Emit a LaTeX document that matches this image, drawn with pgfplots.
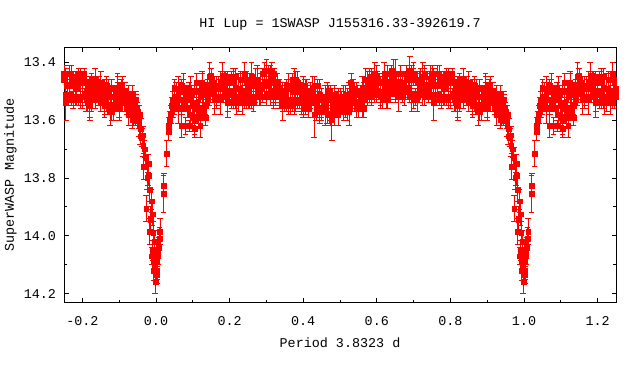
\documentclass[border=0pt]{standalone}
\usepackage{fontspec}
\setmainfont{Liberation Mono}
\usepackage{pgfplots}
\pgfplotsset{compat=1.18}
\usepackage{pgfplotstable}
\newcommand\gfont{\fontsize{13.4bp}{16bp}\selectfont}

% phase-folded light curve, out of eclipse: phase, three magnitudes with errors
\pgfplotstableread{
p a ea b eb c ec
0.050 13.49 0.03 13.55 0.03 13.52 0.04
0.055 13.52 0.02 13.49 0.02 13.49 0.02
0.060 13.49 0.04 13.56 0.05 13.52 0.03
0.065 13.53 0.03 13.50 0.03 13.50 0.03
0.070 13.56 0.02 13.62 0.04 13.48 0.02
0.075 13.49 0.05 13.55 0.02 13.50 0.04
0.080 13.53 0.03 13.62 0.03 13.52 0.03
0.085 13.52 0.04 13.56 0.03 13.53 0.03
0.090 13.50 0.02 13.62 0.02 13.49 0.02
0.095 13.52 0.03 13.58 0.04 13.50 0.05
0.100 13.55 0.03 13.59 0.03 13.54 0.04
0.105 13.56 0.02 13.63 0.02 13.50 0.02
0.110 13.54 0.04 13.54 0.05 13.47 0.03
0.115 13.56 0.03 13.58 0.03 13.56 0.03
0.120 13.50 0.02 13.59 0.04 13.52 0.02
0.125 13.49 0.05 13.56 0.02 13.47 0.04
0.130 13.50 0.03 13.57 0.03 13.51 0.03
0.135 13.55 0.04 13.59 0.03 13.55 0.03
0.140 13.49 0.02 13.48 0.02 13.53 0.02
0.145 13.51 0.03 13.51 0.04 13.45 0.05
0.150 13.47 0.03 13.45 0.03 13.46 0.04
0.155 13.51 0.02 13.47 0.02 13.51 0.02
0.160 13.49 0.04 13.53 0.05 13.53 0.03
0.165 13.48 0.03 13.52 0.03 13.53 0.03
0.170 13.48 0.02 13.49 0.04 13.52 0.02
0.175 13.53 0.05 13.52 0.02 13.47 0.04
0.180 13.48 0.03 13.46 0.03 13.49 0.03
0.185 13.47 0.04 13.48 0.03 13.47 0.03
0.190 13.52 0.02 13.50 0.02 13.45 0.02
0.195 13.54 0.03 13.47 0.04 13.54 0.05
0.200 13.50 0.03 13.51 0.03 13.51 0.04
0.205 13.45 0.02 13.51 0.02 13.54 0.02
0.210 13.47 0.04 13.47 0.05 13.53 0.03
0.215 13.53 0.03 13.49 0.03 13.45 0.03
0.220 13.53 0.02 13.54 0.04 13.52 0.02
0.225 13.49 0.05 13.52 0.02 13.53 0.04
0.230 13.46 0.03 13.52 0.03 13.50 0.03
0.235 13.54 0.04 13.50 0.03 13.51 0.03
0.240 13.52 0.02 13.52 0.02 13.54 0.02
0.245 13.46 0.03 13.47 0.04 13.51 0.05
0.250 13.51 0.03 13.49 0.03 13.52 0.04
0.255 13.54 0.02 13.52 0.02 13.46 0.02
0.260 13.48 0.04 13.45 0.05 13.53 0.03
0.265 13.54 0.03 13.54 0.03 13.52 0.03
0.270 13.52 0.02 13.46 0.04 13.48 0.02
0.275 13.46 0.05 13.49 0.02 13.46 0.04
0.280 13.50 0.03 13.52 0.03 13.50 0.03
0.285 13.48 0.04 13.52 0.03 13.49 0.03
0.290 13.44 0.02 13.52 0.02 13.52 0.02
0.295 13.43 0.03 13.48 0.04 13.47 0.05
0.300 13.48 0.03 13.52 0.03 13.51 0.04
0.305 13.51 0.02 13.48 0.02 13.43 0.02
0.310 13.45 0.04 13.50 0.05 13.50 0.03
0.315 13.43 0.03 13.47 0.03 13.46 0.03
0.320 13.52 0.02 13.52 0.04 13.44 0.02
0.325 13.50 0.05 13.49 0.02 13.50 0.04
0.330 13.47 0.03 13.49 0.03 13.49 0.03
0.335 13.52 0.04 13.52 0.03 13.49 0.03
0.340 13.50 0.02 13.52 0.02 13.53 0.02
0.345 13.50 0.03 13.53 0.04 13.55 0.05
0.350 13.51 0.03 13.52 0.03 13.53 0.04
0.355 13.55 0.02 13.48 0.02 13.49 0.02
0.360 13.48 0.04 13.53 0.05 13.53 0.03
0.365 13.49 0.03 13.53 0.03 13.55 0.03
0.370 13.46 0.02 13.48 0.04 13.55 0.02
0.375 13.53 0.05 13.50 0.02 13.46 0.04
0.380 13.54 0.03 13.46 0.03 13.53 0.03
0.385 13.47 0.04 13.53 0.03 13.49 0.03
0.390 13.54 0.02 13.54 0.02 13.50 0.02
0.395 13.52 0.03 13.54 0.04 13.52 0.05
0.400 13.48 0.03 13.51 0.03 13.55 0.04
0.405 13.54 0.02 13.48 0.02 13.56 0.02
0.410 13.50 0.04 13.51 0.05 13.52 0.03
0.415 13.56 0.03 13.53 0.03 13.54 0.03
0.420 13.54 0.02 13.51 0.04 13.50 0.02
0.425 13.50 0.05 13.53 0.02 13.49 0.04
0.430 13.48 0.03 13.52 0.03 13.48 0.03
0.435 13.56 0.04 13.55 0.03 13.55 0.03
0.440 13.57 0.02 13.53 0.02 13.48 0.02
0.445 13.57 0.03 13.57 0.04 13.51 0.05
0.450 13.56 0.03 13.52 0.03 13.56 0.04
0.455 13.54 0.02 13.53 0.02 13.56 0.02
0.460 13.52 0.04 13.57 0.05 13.55 0.03
0.465 13.58 0.03 13.51 0.03 13.50 0.03
0.470 13.50 0.02 13.53 0.04 13.53 0.02
0.475 13.53 0.05 13.58 0.02 13.58 0.04
0.480 13.54 0.03 13.52 0.03 13.57 0.03
0.485 13.58 0.04 13.51 0.03 13.55 0.03
0.490 13.52 0.02 13.57 0.02 13.53 0.02
0.495 13.55 0.03 13.58 0.04 13.54 0.05
0.500 13.53 0.03 13.55 0.03 13.53 0.04
0.505 13.54 0.02 13.52 0.02 13.52 0.02
0.510 13.52 0.04 13.55 0.05 13.57 0.03
0.515 13.51 0.03 13.51 0.03 13.56 0.03
0.520 13.51 0.02 13.56 0.04 13.54 0.02
0.525 13.57 0.05 13.56 0.02 13.51 0.04
0.530 13.47 0.03 13.51 0.03 13.52 0.03
0.535 13.53 0.04 13.49 0.03 13.54 0.03
0.540 13.54 0.02 13.54 0.02 13.49 0.02
0.545 13.56 0.03 13.51 0.04 13.54 0.05
0.550 13.56 0.03 13.56 0.03 13.55 0.04
0.555 13.50 0.02 13.53 0.02 13.52 0.02
0.560 13.49 0.04 13.54 0.05 13.53 0.03
0.565 13.50 0.03 13.53 0.03 13.56 0.03
0.570 13.52 0.02 13.46 0.04 13.50 0.02
0.575 13.48 0.05 13.51 0.02 13.51 0.04
0.580 13.50 0.03 13.51 0.03 13.45 0.03
0.585 13.46 0.04 13.46 0.03 13.52 0.03
0.590 13.50 0.02 13.48 0.02 13.51 0.02
0.595 13.48 0.03 13.44 0.04 13.49 0.05
0.600 13.47 0.03 13.51 0.03 13.47 0.04
0.605 13.47 0.02 13.50 0.02 13.51 0.02
0.610 13.52 0.04 13.50 0.05 13.50 0.03
0.615 13.47 0.03 13.47 0.03 13.53 0.03
0.620 13.46 0.02 13.44 0.04 13.48 0.02
0.625 13.51 0.05 13.47 0.02 13.52 0.04
0.630 13.53 0.03 13.49 0.03 13.44 0.03
0.635 13.49 0.04 13.47 0.03 13.51 0.03
0.640 13.43 0.02 13.48 0.02 13.46 0.02
0.645 13.45 0.03 13.47 0.04 13.44 0.05
0.650 13.51 0.03 13.50 0.03 13.50 0.04
0.655 13.51 0.02 13.48 0.02 13.49 0.02
0.660 13.47 0.04 13.52 0.05 13.49 0.03
0.665 13.44 0.03 13.47 0.03 13.50 0.03
0.670 13.52 0.02 13.48 0.04 13.52 0.02
0.675 13.50 0.05 13.50 0.02 13.49 0.04
0.680 13.44 0.03 13.44 0.03 13.46 0.03
0.685 13.49 0.04 13.46 0.03 13.50 0.03
0.690 13.52 0.02 13.51 0.02 13.52 0.02
0.695 13.46 0.03 13.45 0.04 13.52 0.05
0.700 13.53 0.03 13.45 0.03 13.44 0.04
0.705 13.53 0.02 13.51 0.02 13.51 0.02
0.710 13.47 0.04 13.52 0.05 13.47 0.03
0.715 13.51 0.03 13.49 0.03 13.46 0.03
0.720 13.49 0.02 13.46 0.04 13.48 0.02
0.725 13.45 0.05 13.49 0.02 13.51 0.04
0.730 13.44 0.03 13.45 0.03 13.52 0.03
0.735 13.49 0.04 13.50 0.03 13.48 0.03
0.740 13.52 0.02 13.50 0.02 13.50 0.02
0.745 13.46 0.03 13.48 0.04 13.46 0.05
0.750 13.44 0.03 13.46 0.03 13.45 0.04
0.755 13.53 0.02 13.51 0.02 13.44 0.02
0.760 13.51 0.04 13.48 0.05 13.51 0.03
0.765 13.48 0.03 13.51 0.03 13.44 0.03
0.770 13.53 0.02 13.45 0.04 13.47 0.02
0.775 13.48 0.05 13.52 0.02 13.52 0.04
0.780 13.48 0.03 13.46 0.03 13.52 0.03
0.785 13.49 0.04 13.52 0.03 13.49 0.03
0.790 13.53 0.02 13.45 0.02 13.44 0.02
0.795 13.46 0.03 13.52 0.04 13.47 0.05
0.800 13.47 0.03 13.46 0.03 13.52 0.04
0.805 13.44 0.02 13.52 0.02 13.51 0.02
0.810 13.53 0.04 13.50 0.05 13.51 0.03
0.815 13.54 0.03 13.51 0.03 13.49 0.03
0.820 13.47 0.02 13.55 0.04 13.50 0.02
0.825 13.52 0.05 13.46 0.02 13.49 0.04
0.830 13.50 0.03 13.50 0.03 13.48 0.03
0.835 13.46 0.04 13.51 0.03 13.53 0.03
0.840 13.52 0.02 13.48 0.02 13.52 0.02
0.845 13.48 0.03 13.49 0.04 13.50 0.05
0.850 13.54 0.03 13.51 0.03 13.47 0.04
0.855 13.52 0.02 13.49 0.02 13.51 0.02
0.860 13.50 0.04 13.54 0.05 13.55 0.03
0.865 13.48 0.03 13.48 0.03 13.50 0.03
0.870 13.56 0.02 13.50 0.04 13.55 0.02
0.875 13.57 0.05 13.56 0.02 13.52 0.04
0.880 13.57 0.03 13.55 0.03 13.49 0.03
0.885 13.56 0.04 13.52 0.03 13.52 0.03
0.890 13.54 0.02 13.55 0.02 13.50 0.02
0.895 13.50 0.03 13.49 0.04 13.49 0.05
0.900 13.56 0.03 13.51 0.03 13.51 0.04
0.905 13.48 0.02 13.53 0.02 13.53 0.02
0.910 13.51 0.04 13.50 0.05 13.54 0.03
0.915 13.52 0.03 13.54 0.03 13.50 0.03
0.920 13.56 0.02 13.54 0.04 13.51 0.02
0.925 13.53 0.05 13.53 0.02 13.58 0.04
0.930 13.56 0.03 13.55 0.03 13.54 0.03
0.935 13.54 0.04 13.60 0.03 13.51 0.03
0.940 13.55 0.02 13.58 0.02 13.60 0.02
0.945 13.53 0.03 13.58 0.04 13.56 0.05
}\maintab

% primary eclipse (phase -0.05 ... 0.05)
\pgfplotstableread{
p m e
-0.050 13.57 0.03
-0.048 13.60 0.03
-0.046 13.62 0.035
-0.045 13.58 0.03
-0.043 13.655 0.03
-0.041 13.63 0.035
-0.038 13.66 0.03
-0.036 13.652 0.03
-0.035 13.69 0.035
-0.034 13.76 0.045
-0.031 13.70 0.03
-0.028 13.73 0.035
-0.027 13.905 0.045
-0.024 13.80 0.04
-0.021 13.75 0.03
-0.021 13.79 0.035
-0.018 13.84 0.04
-0.018 13.985 0.045
-0.016 13.94 0.04
-0.014 13.945 0.035
-0.012 13.88 0.04
-0.012 14.07 0.03
-0.010 13.925 0.04
-0.010 14.05 0.035
-0.008 13.99 0.04
-0.007 14.085 0.03
-0.006 14.12 0.035
-0.005 14.02 0.04
-0.004 14.07 0.03
-0.003 14.10 0.03
-0.002 14.16 0.04
-0.001 14.13 0.03
0.001 14.09 0.035
0.002 14.135 0.03
0.003 14.12 0.03
0.004 14.07 0.03
0.005 14.06 0.04
0.007 14.04 0.035
0.009 14.01 0.04
0.011 13.985 0.045
0.020 13.855 0.065
0.021 13.825 0.04
0.029 13.715 0.045
0.034 13.62 0.03
0.035 13.64 0.03
0.037 13.60 0.03
0.040 13.58 0.03
0.043 13.55 0.03
0.045 13.53 0.03
0.047 13.56 0.03
}\ecltab

% a few points with large error bars
\pgfplotstableread{
p m e
0.105 13.60 0.06
0.120 13.62 0.04
0.180 13.45 0.05
0.240 13.44 0.04
0.300 13.43 0.04
0.430 13.58 0.08
0.478 13.60 0.07
0.600 13.45 0.04
0.650 13.44 0.05
0.690 13.43 0.05
0.755 13.54 0.06
0.820 13.53 0.07
0.900 13.55 0.05
}\outtab

\pgfplotsset{
  pts/.style={only marks, mark=square*, mark size=2.4bp, color=red,
    mark options={solid, fill=red, draw=red, line width=0.3bp},
    restrict x to domain=-0.27:1.27,
    error bars/.cd, y dir=both, y explicit,
    error bar style={line width=1bp, red},
    error mark options={red, line width=1bp, mark size=2.8bp, rotate=90}},
}

\begin{document}
\begin{tikzpicture}[font=\gfont]
\path[use as bounding box] (0,0) rectangle (640bp,384bp);
\begin{axis}[
  at={(64bp,81.3bp)}, anchor=south west,
  scale only axis, width=552bp, height=255.4bp,
  xmin=-0.25, xmax=1.25, ymin=13.348, ymax=14.231, y dir=reverse,
  xtick={-0.2,0,0.2,0.4,0.6,0.8,1,1.2},
  xticklabels={-0.2,0.0,0.2,0.4,0.6,0.8,1.0,1.2},
  ytick={13.4,13.6,13.8,14.0,14.2},
  yticklabels={13.4,13.6,13.8,14.0,14.2},
  minor x tick num=1, minor y tick num=1,
  tick align=inside, major tick length=4.5bp, minor tick length=3bp,
  axis line style={line width=1bp, black},
  every tick/.append style={line width=1bp, black},
  tick label style={font=\gfont},
  xticklabel style={anchor=base, yshift=-23bp},
  yticklabel style={anchor=east, xshift=-4.5bp},
  title={HI Lup = 1SWASP J155316.33-392619.7},
  every axis title/.style={at={(axis description cs:0.5,1.0783)}, anchor=base, font=\gfont},
  xlabel={Period 3.8323 d},
  every axis x label/.style={at={(axis description cs:0.5,-0.1746)}, anchor=base, font=\gfont},
  ylabel={SuperWASP Magnitude},
  every axis y label/.style={at={(axis description cs:-0.0906,0.5)}, rotate=90, anchor=base, font=\gfont},
  clip=true,
]
\addplot[pts] table[x=p, y=a, y error=ea] {\maintab};
\addplot[pts] table[x=p, y=b, y error=eb] {\maintab};
\addplot[pts] table[x=p, y=c, y error=ec] {\maintab};
\addplot[pts] table[x expr=\thisrow{p}-1, y=a, y error=ea] {\maintab};
\addplot[pts] table[x expr=\thisrow{p}-1, y=b, y error=eb] {\maintab};
\addplot[pts] table[x expr=\thisrow{p}-1, y=c, y error=ec] {\maintab};
\addplot[pts] table[x expr=\thisrow{p}+1, y=a, y error=ea] {\maintab};
\addplot[pts] table[x expr=\thisrow{p}+1, y=b, y error=eb] {\maintab};
\addplot[pts] table[x expr=\thisrow{p}+1, y=c, y error=ec] {\maintab};
\addplot[pts] table[x=p, y=m, y error=e] {\outtab};
\addplot[pts] table[x expr=\thisrow{p}-1, y=m, y error=e] {\outtab};
\addplot[pts] table[x expr=\thisrow{p}+1, y=m, y error=e] {\outtab};
\addplot[pts] table[x=p, y=m, y error=e] {\ecltab};
\addplot[pts] table[x expr=\thisrow{p}+1, y=m, y error=e] {\ecltab};
\end{axis}
\end{tikzpicture}
\end{document}
